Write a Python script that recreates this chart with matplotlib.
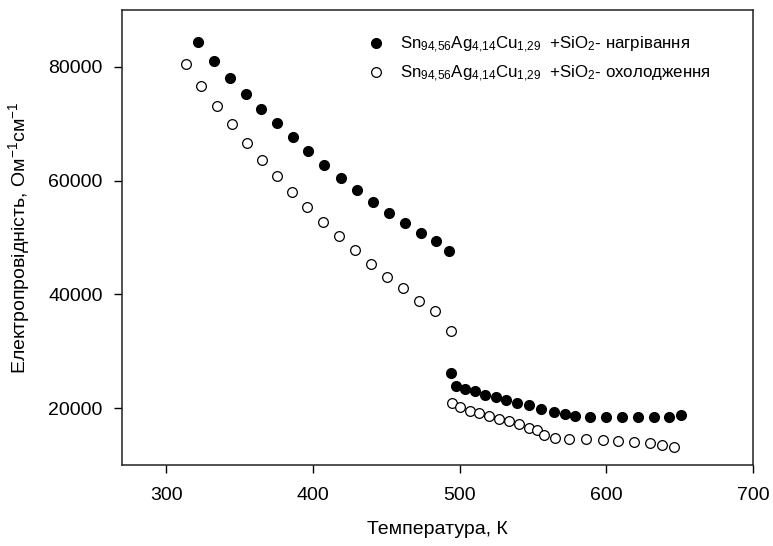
import matplotlib
matplotlib.use("Agg")
import matplotlib.pyplot as plt

plt.rcParams['font.family'] = ['Liberation Sans', 'DejaVu Sans']
plt.rcParams['mathtext.fontset'] = 'custom'
plt.rcParams['mathtext.rm'] = 'Liberation Sans'
plt.rcParams['mathtext.it'] = 'Liberation Sans'
plt.rcParams['mathtext.default'] = 'regular'

# heating (filled)
t_heat = [322, 332.7, 343.4, 354.1, 364.9, 375.6, 386.3, 397, 407.7, 419.1, 430.4, 441.3, 452.2,
          463.1, 473.6, 483.8, 492.9,
          494, 497.5, 503.8, 510.5, 517.7, 524.7, 531.8, 539.5, 547.5, 555.4, 564.5, 572.2,
          579, 589, 600, 610.8, 621.7, 632.6, 642.6, 650.8]
g_heat = [84350, 80940, 78010, 75190, 72550, 70090, 67680, 65210, 62820, 60530, 58290, 56230,
          54300, 52530, 50840, 49300, 47600,
          26200, 24000, 23400, 22960, 22380, 21970, 21440, 20970, 20490, 19910, 19330, 18980,
          18630, 18380, 18380, 18380, 18380, 18380, 18520, 18890]

# cooling (open)
t_cool = [313.8, 324.1, 334.4, 344.7, 355, 365.4, 375.7, 386, 396.3, 407.2, 418.1, 428.8, 439.5,
          450.4, 461.8, 472.4, 483.4, 494.3,
          495, 500.4, 507, 513.6, 520, 526.6, 533.4, 540.4, 547.7, 552.7, 557.9, 565, 574.9,
          586.1, 597.5, 608.3, 619, 630, 638.3, 646.3]
g_cool = [80420, 76600, 73080, 69860, 66620, 63600, 60800, 58000, 55350, 52710, 50190, 47730,
          45390, 43150, 41090, 38920, 37040, 33640,
          20900, 20140, 19600, 19090, 18630, 18200, 17850, 17270, 16620, 16160, 15380, 14860,
          14680, 14570, 14400, 14280, 14130, 13920, 13570, 13220]

label_heat = r'Sn$_{94{,}56}$Ag$_{4{,}14}$Cu$_{1{,}29}$  +SiO$_2$- нагрівання'
label_cool = r'Sn$_{94{,}56}$Ag$_{4{,}14}$Cu$_{1{,}29}$  +SiO$_2$- охолодження'

fig = plt.figure(figsize=(7.73, 5.46), dpi=100)
ax = fig.add_axes([0.158, 0.148, 0.816, 0.834])

ax.plot(t_heat, g_heat, 'o', color='black', markersize=7, linestyle='none', label=label_heat)
ax.plot(t_cool, g_cool, 'o', markerfacecolor='white', markeredgecolor='black',
        markeredgewidth=0.9, markersize=7, linestyle='none', label=label_cool)

ax.set_xlim(270, 700)
ax.set_ylim(10000, 90000)
ax.set_xticks([300, 400, 500, 600, 700])
ax.set_yticks([20000, 40000, 60000, 80000])
ax.tick_params(direction='out', length=6, width=1, labelsize=14)
ax.tick_params(axis='x', pad=10)
ax.tick_params(axis='y', pad=8)

for s in ax.spines.values():
    s.set_linewidth(1.1)
    s.set_color('#222222')

ax.set_xlabel('Температура, К', fontsize=14, labelpad=12)
ax.set_ylabel('Електропровідність, Ом$^{-1}$см$^{-1}$', fontsize=14, labelpad=12)

ax.legend(loc='upper left', bbox_to_anchor=(0.365, 0.96), frameon=False, fontsize=12.2,
          handletextpad=0.4, labelspacing=0.5, borderaxespad=0)

fig.savefig('out.png', dpi=100)
